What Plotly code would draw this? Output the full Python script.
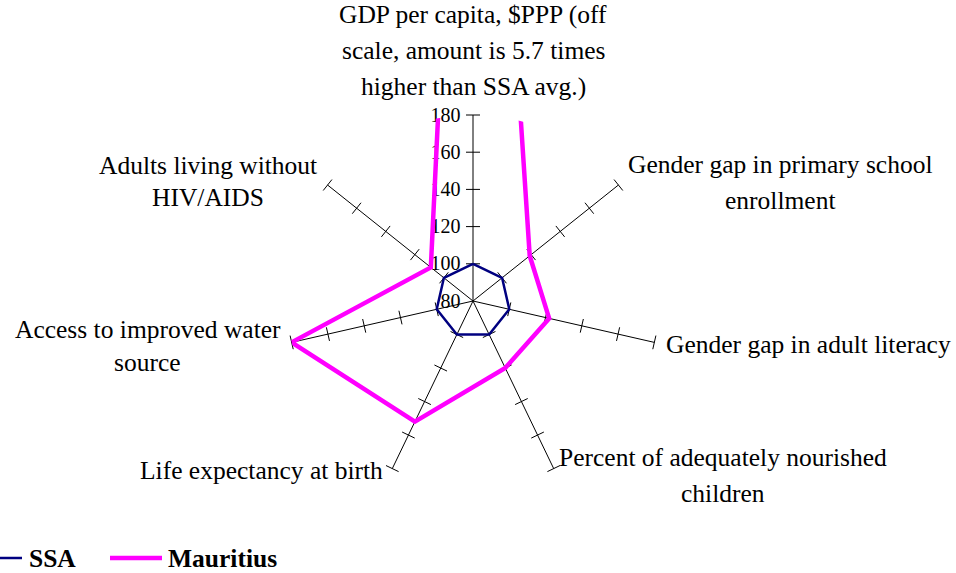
import plotly.graph_objects as go

# ---------------- data ----------------
categories = [
    "GDP per capita, $PPP (off<br>scale, amount is 5.7 times<br>higher than SSA avg.)",
    "Gender gap in primary school<br>enrollment",
    "Gender gap in adult literacy",
    "Percent of adequately nourished<br>children",
    "Life expectancy at birth",
    "Access to improved water<br>source",
    "Adults living without<br>HIV/AIDS",
]
ssa = [100, 100, 100, 100, 100, 100, 100]
mauritius = [570, 119, 122, 120, 152, 180, 109]
tick_values = [100, 120, 140, 160, 180]
radial_range = [80, 180]
series_names = ["SSA", "Mauritius"]
series_colors = ["#000080", "#FF00FF"]
series_widths = [2.5, 4.5]

# ---------------- layout geometry (pixels) ----------------
W, H = 956, 573
CX, CY, R = 473, 301, 186
FONT = "Liberation Serif, Times New Roman, serif"
LABEL_SIZE = 25.5

# centre of each label line (x, list of y)
label_pos = [
    (473, [14.6, 50.6, 86.6]),
    (780, [164.7, 200.0]),
    (808.5, [344.7]),
    (723, [457.4, 493.0]),
    (261.5, [470.5]),
    (147.5, [329.0, 362.4]),
    (208, [165.0, 197.4]),
]

n = len(categories)
spoke_angles = [i * 360.0 / n for i in range(n)]


def px(x):
    return x / W


def py(y):
    return 1 - y / H


fig = go.Figure()

# tick marks across every spoke
tick_theta = [c for c in categories for _ in tick_values]
tick_r = [v for _ in categories for v in tick_values]
tick_ang = [a for a in spoke_angles for _ in tick_values]
fig.add_trace(go.Scatterpolar(
    r=tick_r, theta=tick_theta, mode="markers", cliponaxis=False,
    marker=dict(symbol="line-ew", size=10, angle=tick_ang,
                line=dict(color="black", width=1), color="black"),
    hoverinfo="skip", showlegend=False,
))

for name, vals, col, wd in zip(series_names, [ssa, mauritius], series_colors, series_widths):
    fig.add_trace(go.Scatterpolar(
        r=vals + vals[:1], theta=categories + categories[:1],
        mode="lines", name=name, line=dict(color=col, width=wd),
        showlegend=False,
    ))

annotations = []
for cat, (x, ys) in zip(categories, label_pos):
    for line, y in zip(cat.split("<br>"), ys):
        annotations.append(dict(
            text=line, x=px(x), y=py(y), xref="paper", yref="paper",
            xanchor="center", yanchor="middle", showarrow=False,
            font=dict(family=FONT, size=LABEL_SIZE, color="black"),
        ))

# legend (manual)
legend_items = [
    (series_names[0], series_colors[0], series_widths[0], -10, 22, 27),
    (series_names[1], series_colors[1], series_widths[1], 110, 162, 165.5),
]
shapes = []
LEG_Y = 558
for name, col, wd, x0, x1, tx in legend_items:
    shapes.append(dict(type="line", xref="paper", yref="paper",
                       x0=px(x0), x1=px(x1), y0=py(LEG_Y), y1=py(LEG_Y),
                       line=dict(color=col, width=wd)))
    annotations.append(dict(
        text="<b>%s</b>" % name, x=px(tx), y=py(558.3), xref="paper", yref="paper",
        xanchor="left", yanchor="middle", showarrow=False,
        font=dict(family=FONT, size=LABEL_SIZE, color="black"),
    ))

fig.update_layout(
    width=W, height=H,
    margin=dict(l=0, r=0, t=0, b=0),
    paper_bgcolor="white", plot_bgcolor="white",
    font=dict(family=FONT, color="black"),
    showlegend=False,
    annotations=annotations,
    shapes=shapes,
    polar=dict(
        domain=dict(x=[px(CX - R), px(CX + R)], y=[py(CY + R), py(CY - R)]),
        bgcolor="white",
        angularaxis=dict(
            direction="clockwise", rotation=90,
            categoryorder="array", categoryarray=categories,
            showgrid=True, gridcolor="black", gridwidth=1,
            showline=False, ticks="", showticklabels=False,
        ),
        radialaxis=dict(
            range=radial_range, angle=90, tickangle=90, side="counterclockwise",
            tick0=80, dtick=20, showgrid=False, showline=False,
            ticks="outside", ticklen=5, tickcolor="rgba(0,0,0,0)",
            layer="below traces",
            tickfont=dict(family=FONT, size=20, color="black"),
        ),
    ),
)

fig.write_html(
    "out.html",
    config={"displayModeBar": False},
    post_script="document.body.style.margin='0';document.body.style.overflow='hidden';",
)
